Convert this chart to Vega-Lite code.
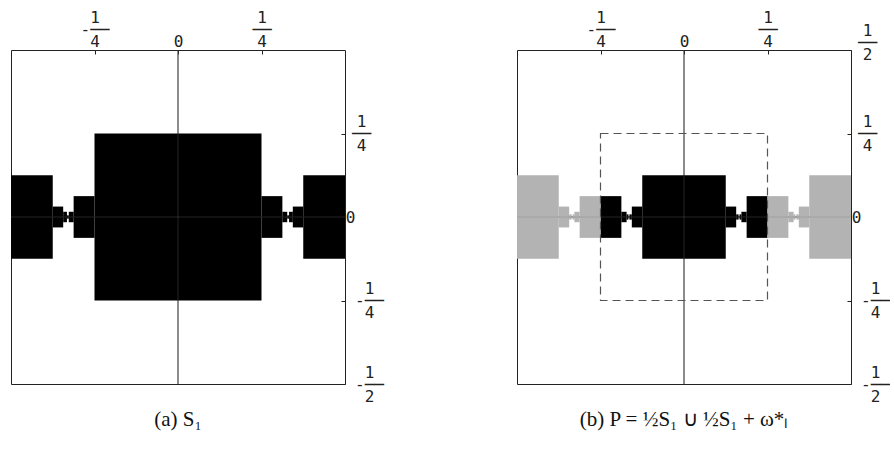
{
  "$schema": "https://vega.github.io/schema/vega-lite/v6.json",
  "background": "white",
  "padding": {"left": 10, "top": 8, "right": 0, "bottom": 0},
  "bounds": "flush",
  "spacing": 172,
  "config": {
    "view": {"stroke": "#222", "strokeWidth": 1},
    "title": {"font": "Liberation Serif", "fontSize": 21, "fontWeight": "normal", "color": "#111"}
  },
  "datasets": {
    "zero": [{"v": 0}],
    "box": [{"x": -0.25, "x2": 0.25, "y": -0.25, "y2": 0.25}],
    "shapesA": [
      {"part": "main", "x": -0.25, "x2": 0.25, "y": -0.25, "y2": 0.25},
      {"part": "main", "x": 0.25, "x2": 0.3125, "y": -0.0625, "y2": 0.0625},
      {"part": "main", "x": 0.3125, "x2": 0.327, "y": -0.015625, "y2": 0.015625},
      {"part": "main", "x": 0.327, "x2": 0.3325, "y": -0.005, "y2": 0.005},
      {"part": "main", "x": 0.3325, "x2": 0.34375, "y": -0.015625, "y2": 0.015625},
      {"part": "main", "x": 0.34375, "x2": 0.375, "y": -0.03125, "y2": 0.03125},
      {"part": "main", "x": 0.375, "x2": 0.5, "y": -0.125, "y2": 0.125},
      {"part": "main", "x": -0.3125, "x2": -0.25, "y": -0.0625, "y2": 0.0625},
      {"part": "main", "x": -0.327, "x2": -0.3125, "y": -0.015625, "y2": 0.015625},
      {"part": "main", "x": -0.3325, "x2": -0.327, "y": -0.005, "y2": 0.005},
      {"part": "main", "x": -0.34375, "x2": -0.3325, "y": -0.015625, "y2": 0.015625},
      {"part": "main", "x": -0.375, "x2": -0.34375, "y": -0.03125, "y2": 0.03125},
      {"part": "main", "x": -0.5, "x2": -0.375, "y": -0.125, "y2": 0.125}
    ],
    "shapesB": [
      {"part": "main", "x": -0.125, "x2": 0.125, "y": -0.125, "y2": 0.125},
      {"part": "main", "x": 0.125, "x2": 0.15625, "y": -0.03125, "y2": 0.03125},
      {"part": "main", "x": 0.15625, "x2": 0.1635, "y": -0.0078125, "y2": 0.0078125},
      {"part": "main", "x": 0.1635, "x2": 0.16625, "y": -0.0025, "y2": 0.0025},
      {"part": "main", "x": 0.16625, "x2": 0.171875, "y": -0.0078125, "y2": 0.0078125},
      {"part": "main", "x": 0.171875, "x2": 0.1875, "y": -0.015625, "y2": 0.015625},
      {"part": "main", "x": 0.1875, "x2": 0.25, "y": -0.0625, "y2": 0.0625},
      {"part": "main", "x": -0.15625, "x2": -0.125, "y": -0.03125, "y2": 0.03125},
      {"part": "main", "x": -0.1635, "x2": -0.15625, "y": -0.0078125, "y2": 0.0078125},
      {"part": "main", "x": -0.16625, "x2": -0.1635, "y": -0.0025, "y2": 0.0025},
      {"part": "main", "x": -0.171875, "x2": -0.16625, "y": -0.0078125, "y2": 0.0078125},
      {"part": "main", "x": -0.1875, "x2": -0.171875, "y": -0.015625, "y2": 0.015625},
      {"part": "main", "x": -0.25, "x2": -0.1875, "y": -0.0625, "y2": 0.0625},
      {"part": "shift", "x": 0.375, "x2": 0.5, "y": -0.125, "y2": 0.125},
      {"part": "shift", "x": 0.34375, "x2": 0.375, "y": -0.03125, "y2": 0.03125},
      {"part": "shift", "x": 0.3365, "x2": 0.34375, "y": -0.0078125, "y2": 0.0078125},
      {"part": "shift", "x": 0.33375, "x2": 0.3365, "y": -0.0025, "y2": 0.0025},
      {"part": "shift", "x": 0.328125, "x2": 0.33375, "y": -0.0078125, "y2": 0.0078125},
      {"part": "shift", "x": 0.3125, "x2": 0.328125, "y": -0.015625, "y2": 0.015625},
      {"part": "shift", "x": 0.25, "x2": 0.3125, "y": -0.0625, "y2": 0.0625},
      {"part": "shift", "x": -0.5, "x2": -0.375, "y": -0.125, "y2": 0.125},
      {"part": "shift", "x": -0.375, "x2": -0.34375, "y": -0.03125, "y2": 0.03125},
      {"part": "shift", "x": -0.34375, "x2": -0.3365, "y": -0.0078125, "y2": 0.0078125},
      {"part": "shift", "x": -0.3365, "x2": -0.33375, "y": -0.0025, "y2": 0.0025},
      {"part": "shift", "x": -0.33375, "x2": -0.328125, "y": -0.0078125, "y2": 0.0078125},
      {"part": "shift", "x": -0.328125, "x2": -0.3125, "y": -0.015625, "y2": 0.015625},
      {"part": "shift", "x": -0.3125, "x2": -0.25, "y": -0.0625, "y2": 0.0625}
    ]
  },
  "hconcat": [
    {
      "width": 334,
      "height": 334,
      "title": {"text": "(a) S₁", "orient": "bottom", "anchor": "middle", "frame": "group", "offset": 5},
      "layer": [
        {
          "data": {"name": "zero"},
          "mark": {"type": "rule", "color": "#222", "strokeWidth": 1},
          "encoding": {"x": {"field": "v", "type": "quantitative", "scale": {"domain": [-0.5, 0.5], "nice": false, "zero": false}}}
        },
        {
          "data": {"name": "zero"},
          "mark": {"type": "rule", "color": "#222", "strokeWidth": 1},
          "encoding": {"y": {"field": "v", "type": "quantitative", "scale": {"domain": [-0.5, 0.5], "nice": false, "zero": false}}}
        },
        {
          "data": {"name": "shapesA"},
          "mark": {"type": "rect"},
          "encoding": {
            "x": {"field": "x", "type": "quantitative", "scale": {"domain": [-0.5, 0.5], "nice": false, "zero": false},
              "axis": {"orient": "top", "values": [-0.25, 0, 0.25], "title": null, "domain": false, "grid": false, "tickSize": -4, "tickColor": "#222",
                "labelFont": "DejaVu Sans Mono", "labelFontSize": 16, "labelColor": "#222", "labelLineHeight": 12,
                "labelPadding": {"condition": {"test": "datum.value == 0", "value": 5}, "value": 29},
                "labelAlign": "center", "labelBaseline": "bottom", "labelFlush": false, "labelOverlap": false,
                "labelExpr": "datum.value == 0 ? '0' : (datum.value < 0 ? ['\u00a01', '-\u2500\u2500', '\u00a0' + (abs(datum.value) == 0.5 ? '2' : '4')] : ['1', '\u2500\u2500', abs(datum.value) == 0.5 ? '2' : '4'])"}},
            "x2": {"field": "x2"},
            "y": {"field": "y", "type": "quantitative", "scale": {"domain": [-0.5, 0.5], "nice": false, "zero": false},
              "axis": {"orient": "right", "values": [0.25, 0, -0.25, -0.5], "title": null, "domain": false, "grid": false, "tickSize": -4, "tickColor": "#222",
                "labelFont": "DejaVu Sans Mono", "labelFontSize": 16, "labelColor": "#222", "labelLineHeight": 12,
                "labelPadding": {"condition": [{"test": "datum.value == 0", "value": 9}, {"test": "datum.value < 0", "value": 28}], "value": 20},
                "labelOffset": {"condition": [{"test": "datum.value == 0.5", "value": -20}, {"test": "datum.value != 0", "value": -12}], "value": 0},
                "labelAlign": "center", "labelBaseline": "middle", "labelFlush": false, "labelOverlap": false,
                "labelExpr": "datum.value == 0 ? '0' : (datum.value < 0 ? ['\u00a01', '-\u2500\u2500', '\u00a0' + (abs(datum.value) == 0.5 ? '2' : '4')] : ['1', '\u2500\u2500', abs(datum.value) == 0.5 ? '2' : '4'])"}},
            "y2": {"field": "y2"},
            "color": {"field": "part", "type": "nominal", "scale": {"domain": ["main", "shift"], "range": ["#000000", "#b3b3b3"]}, "legend": null}
          }
        },
        {
          "data": {"name": "zero"},
          "mark": {"type": "rule", "color": "#777", "strokeWidth": 1, "opacity": 0.3},
          "encoding": {"x": {"field": "v", "type": "quantitative", "scale": {"domain": [-0.5, 0.5], "nice": false, "zero": false}}}
        },
        {
          "data": {"name": "zero"},
          "mark": {"type": "rule", "color": "#777", "strokeWidth": 1, "opacity": 0.3},
          "encoding": {"y": {"field": "v", "type": "quantitative", "scale": {"domain": [-0.5, 0.5], "nice": false, "zero": false}}}
        }
      ]
    },
    {
      "width": 334,
      "height": 334,
      "title": {"text": "(b) P = ½S₁ ∪ ½S₁ + ω*ₗ", "orient": "bottom", "anchor": "middle", "frame": "group", "offset": 5},
      "layer": [
        {
          "data": {"name": "zero"},
          "mark": {"type": "rule", "color": "#222", "strokeWidth": 1},
          "encoding": {"x": {"field": "v", "type": "quantitative", "scale": {"domain": [-0.5, 0.5], "nice": false, "zero": false}}}
        },
        {
          "data": {"name": "zero"},
          "mark": {"type": "rule", "color": "#222", "strokeWidth": 1},
          "encoding": {"y": {"field": "v", "type": "quantitative", "scale": {"domain": [-0.5, 0.5], "nice": false, "zero": false}}}
        },
        {
          "data": {"name": "shapesB"},
          "mark": {"type": "rect"},
          "encoding": {
            "x": {"field": "x", "type": "quantitative", "scale": {"domain": [-0.5, 0.5], "nice": false, "zero": false},
              "axis": {"orient": "top", "values": [-0.25, 0, 0.25], "title": null, "domain": false, "grid": false, "tickSize": -4, "tickColor": "#222",
                "labelFont": "DejaVu Sans Mono", "labelFontSize": 16, "labelColor": "#222", "labelLineHeight": 12,
                "labelPadding": {"condition": {"test": "datum.value == 0", "value": 5}, "value": 29},
                "labelAlign": "center", "labelBaseline": "bottom", "labelFlush": false, "labelOverlap": false,
                "labelExpr": "datum.value == 0 ? '0' : (datum.value < 0 ? ['\u00a01', '-\u2500\u2500', '\u00a0' + (abs(datum.value) == 0.5 ? '2' : '4')] : ['1', '\u2500\u2500', abs(datum.value) == 0.5 ? '2' : '4'])"}},
            "x2": {"field": "x2"},
            "y": {"field": "y", "type": "quantitative", "scale": {"domain": [-0.5, 0.5], "nice": false, "zero": false},
              "axis": {"orient": "right", "values": [0.5, 0.25, 0, -0.25, -0.5], "title": null, "domain": false, "grid": false, "tickSize": -4, "tickColor": "#222",
                "labelFont": "DejaVu Sans Mono", "labelFontSize": 16, "labelColor": "#222", "labelLineHeight": 12,
                "labelPadding": {"condition": [{"test": "datum.value == 0", "value": 9}, {"test": "datum.value < 0", "value": 28}], "value": 20},
                "labelOffset": {"condition": [{"test": "datum.value == 0.5", "value": -20}, {"test": "datum.value != 0", "value": -12}], "value": 0},
                "labelAlign": "center", "labelBaseline": "middle", "labelFlush": false, "labelOverlap": false,
                "labelExpr": "datum.value == 0 ? '0' : (datum.value < 0 ? ['\u00a01', '-\u2500\u2500', '\u00a0' + (abs(datum.value) == 0.5 ? '2' : '4')] : ['1', '\u2500\u2500', abs(datum.value) == 0.5 ? '2' : '4'])"}},
            "y2": {"field": "y2"},
            "color": {"field": "part", "type": "nominal", "scale": {"domain": ["main", "shift"], "range": ["#000000", "#b3b3b3"]}, "legend": null}
          }
        },
        {
          "data": {"name": "zero"},
          "mark": {"type": "rule", "color": "#777", "strokeWidth": 1, "opacity": 0.3},
          "encoding": {"x": {"field": "v", "type": "quantitative", "scale": {"domain": [-0.5, 0.5], "nice": false, "zero": false}}}
        },
        {
          "data": {"name": "zero"},
          "mark": {"type": "rule", "color": "#777", "strokeWidth": 1, "opacity": 0.3},
          "encoding": {"y": {"field": "v", "type": "quantitative", "scale": {"domain": [-0.5, 0.5], "nice": false, "zero": false}}}
        },
        {
          "data": {"name": "box"},
          "mark": {"type": "rect", "fill": null, "fillOpacity": 0, "stroke": "#555", "strokeWidth": 1.2, "strokeDash": [8, 5]},
          "encoding": {
            "x": {"field": "x", "type": "quantitative", "scale": {"domain": [-0.5, 0.5], "nice": false, "zero": false}},
            "x2": {"field": "x2"},
            "y": {"field": "y", "type": "quantitative", "scale": {"domain": [-0.5, 0.5], "nice": false, "zero": false}},
            "y2": {"field": "y2"}
          }
        }
      ]
    }
  ]
}
